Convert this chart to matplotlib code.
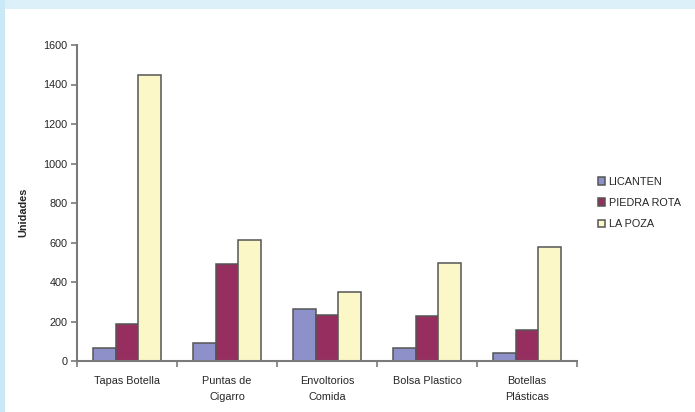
import numpy as np
import matplotlib.pyplot as plt
from matplotlib.patches import Rectangle

plt.rcParams['font.family'] = ['Liberation Sans', 'DejaVu Sans']

categories = ["Tapas Botella", "Puntas de\nCigarro", "Envoltorios\nComida",
              "Bolsa Plastico", "Botellas\nPlásticas"]
series_names = ["LICANTEN", "PIEDRA ROTA", "LA POZA"]
licanten = [65, 90, 265, 65, 38]
piedra_rota = [185, 490, 235, 228, 155]
la_poza = [1450, 615, 350, 495, 575]
yticks = [0, 200, 400, 600, 800, 1000, 1200, 1400, 1600]

colors = ["#8e91c9", "#962f60", "#fbf7c6"]
edge = "#555555"
axis_col = "#7a7a7a"
txt = "#262626"

fig = plt.figure(figsize=(6.95, 4.12), dpi=100)
fig.patch.set_facecolor("white")
# light blue frame strips (top and left)
fig.add_artist(Rectangle((0, 1 - 9 / 412), 1, 9 / 412, transform=fig.transFigure,
                         facecolor="#dcf0fa", edgecolor="none"))
fig.add_artist(Rectangle((0, 0), 5 / 695, 1, transform=fig.transFigure,
                         facecolor="#c9e9f7", edgecolor="none"))

ax = fig.add_axes([77 / 695, 1 - 361 / 412, 500 / 695, 316 / 412])

x = np.arange(len(categories))
w = 0.225
for i, (vals, name) in enumerate(zip([licanten, piedra_rota, la_poza], series_names)):
    ax.bar(x + (i - 1) * w, vals, width=w, color=colors[i], edgecolor=edge,
           linewidth=1.1, label=name)

ax.set_xlim(-0.5, len(categories) - 0.5)
ax.set_ylim(0, 1600)
ax.set_yticks(yticks)
ax.set_yticklabels([str(v) for v in yticks], fontsize=7.8, color=txt)
ax.set_xticks(x)
ax.set_xticklabels(categories, fontsize=7.8, color=txt, linespacing=1.75)
ax.tick_params(axis="x", length=0, pad=11)
ax.set_xticks(np.arange(-0.5, len(categories)), minor=True)
ax.tick_params(axis="x", which="minor", length=4, color=axis_col, width=1.2)
ax.tick_params(axis="y", length=4, color=axis_col, width=1.2, pad=3)

for s in ["top", "right"]:
    ax.spines[s].set_visible(False)
for s in ["left", "bottom"]:
    ax.spines[s].set_color(axis_col)
    ax.spines[s].set_linewidth(1.5)

ax.set_ylabel("Unidades", fontsize=7.8, fontweight="bold", color=txt)
ax.yaxis.set_label_coords(-0.098, 0.47)

leg = ax.legend(loc="center left", bbox_to_anchor=(588 / 695, 1 - 203 / 412),
                bbox_transform=fig.transFigure, frameon=False, fontsize=7.8,
                handlelength=0.7, handleheight=0.7, handletextpad=0.3,
                labelspacing=1.05)
for t in leg.get_texts():
    t.set_color(txt)

fig.savefig("out.png", dpi=100)
